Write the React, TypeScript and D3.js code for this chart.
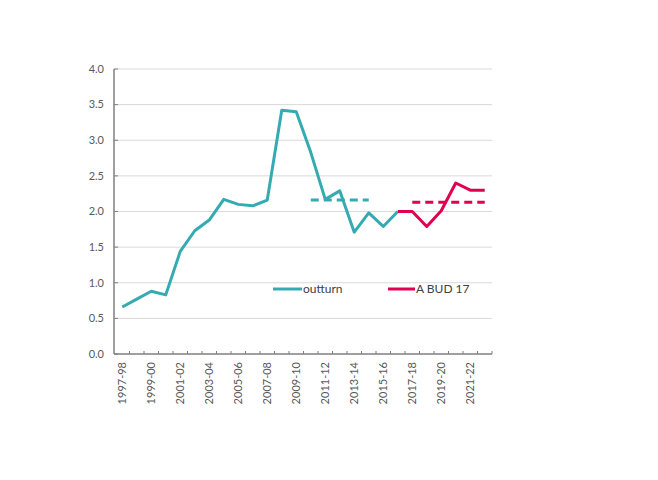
import React from 'react'
import * as d3 from 'd3'

// Financial years on the x axis
const years = [
  '1997-98', '1998-99', '1999-00', '2000-01', '2001-02', '2002-03', '2003-04',
  '2004-05', '2005-06', '2006-07', '2007-08', '2008-09', '2009-10', '2010-11',
  '2011-12', '2012-13', '2013-14', '2014-15', '2015-16', '2016-17', '2017-18',
  '2018-19', '2019-20', '2020-21', '2021-22', '2022-23',
]

// outturn series (1997-98 .. 2016-17)
const outturn = [
  0.66, 0.77, 0.88, 0.83, 1.44, 1.73, 1.88, 2.17, 2.1, 2.08, 2.16, 3.42, 3.4,
  2.83, 2.17, 2.29, 1.71, 1.98, 1.79, 2.0,
]

// A BUD 17 series (2016-17 .. 2022-23)
const budYears = ['2016-17', '2017-18', '2018-19', '2019-20', '2020-21', '2021-22', '2022-23']
const bud = [2.0, 2.0, 1.79, 2.01, 2.4, 2.3, 2.3]

// averages shown as dashed lines
const outturnAvgYears = ['2010-11', '2014-15']
const outturnAvg = 2.16
const budAvgYears = ['2017-18', '2022-23']
const budAvg = 2.13

const yTicks = [0, 0.5, 1, 1.5, 2, 2.5, 3, 3.5, 4]

const TEAL = '#36aab1'
const RED = '#e0004f'
const FONT = 'Lato, "Open Sans", sans-serif'

const App: React.FC = () => {
  const width = 658
  const height = 480
  const left = 115
  const right = 492
  const top = 69
  const bottom = 354

  const x = d3.scaleBand<string>().domain(years).range([left, right]).padding(0)
  const y = d3.scaleLinear().domain([0, 4]).range([bottom, top])
  const cx = (d: string) => (x(d) ?? 0) + x.bandwidth() / 2

  const line = d3
    .line<[string, number]>()
    .x((d) => cx(d[0]))
    .y((d) => y(d[1]))

  const outPts: [string, number][] = outturn.map((v, i) => [years[i], v])
  const budPts: [string, number][] = bud.map((v, i) => [budYears[i], v])

  return (
    <svg
      width={width}
      height={height}
      style={{ position: 'absolute', left: 0, top: 0, fontFamily: FONT }}
    >
      {/* gridlines */}
      {yTicks.slice(1).map((t) => (
        <line key={t} x1={left} x2={right} y1={y(t)} y2={y(t)} stroke="#d9d9d9" strokeWidth={1} />
      ))}

      {/* y axis */}
      <line x1={left - 1} x2={left - 1} y1={top} y2={bottom} stroke="#7f7f7f" strokeWidth={1.5} />
      {yTicks.map((t) => (
        <g key={t}>
          <line x1={left - 1} x2={left + 3} y1={y(t)} y2={y(t)} stroke="#7f7f7f" strokeWidth={1} />
          <text x={left - 11} y={y(t)} dy="0.35em" textAnchor="end" fontSize={11} fill="#595959">
            {t.toFixed(1)}
          </text>
        </g>
      ))}

      {/* x axis */}
      <line x1={left - 1} x2={right} y1={bottom} y2={bottom} stroke="#7f7f7f" strokeWidth={1.5} />
      {years.map((yr, i) => (
        <line
          key={yr}
          x1={(x(yr) ?? 0) + x.bandwidth()}
          x2={(x(yr) ?? 0) + x.bandwidth()}
          y1={bottom - 3}
          y2={bottom}
          stroke="#7f7f7f"
          strokeWidth={1}
          data-i={i}
        />
      ))}
      {years
        .filter((_, i) => i % 2 === 0)
        .map((yr) => (
          <text
            key={yr}
            transform={`translate(${cx(yr)},${bottom + 8}) rotate(-90)`}
            dy="0.35em"
            textAnchor="end"
            fontSize={11}
            fill="#595959"
          >
            {yr}
          </text>
        ))}

      {/* series */}
      <path d={line(outPts) ?? ''} fill="none" stroke={TEAL} strokeWidth={3} strokeLinejoin="round" />
      <path d={line(budPts) ?? ''} fill="none" stroke={RED} strokeWidth={3} strokeLinejoin="round" />

      {/* averages */}
      <line
        x1={cx(outturnAvgYears[0])}
        x2={cx(outturnAvgYears[1])}
        y1={y(outturnAvg)}
        y2={y(outturnAvg)}
        stroke={TEAL}
        strokeWidth={3}
        strokeDasharray="8 5"
      />
      <line
        x1={cx(budAvgYears[0])}
        x2={cx(budAvgYears[1])}
        y1={y(budAvg)}
        y2={y(budAvg)}
        stroke={RED}
        strokeWidth={3}
        strokeDasharray="8 5"
      />

      {/* legend */}
      <g transform="translate(273,289)">
        <line x1={0} x2={29} y1={0} y2={0} stroke={TEAL} strokeWidth={3} />
        <text x={30} y={0} dy="0.35em" fontSize={12} fill="#404040">outturn</text>
      </g>
      <g transform="translate(388,289)">
        <line x1={0} x2={27} y1={0} y2={0} stroke={RED} strokeWidth={3} />
        <text x={28} y={0} dy="0.35em" fontSize={12} fill="#404040">A BUD 17</text>
      </g>
    </svg>
  )
}

export default App
